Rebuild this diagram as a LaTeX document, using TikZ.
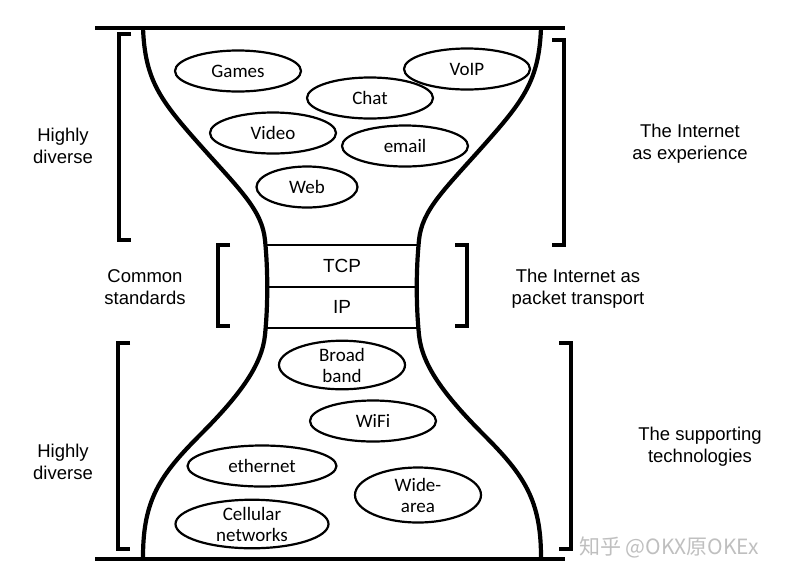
\documentclass[tikz,border=0pt]{standalone}
\usepackage{fontspec}
\setmainfont{Liberation Sans}
\newfontfamily\calibri{Carlito}
\newfontfamily\cjk{Noto Sans CJK SC}
\usetikzlibrary{shapes,positioning}
\tikzstyle{app} = [ellipse, draw, line width=2.2pt, minimum width=126pt,
    minimum height=41pt, inner sep=0pt, align=center,
    font=\calibri\fontsize{19}{21}\selectfont]
\tikzstyle{side} = [align=center, font=\fontsize{18.5}{22}\selectfont]
\tikzstyle{layer} = [minimum width=154pt, minimum height=41pt, inner sep=0pt,
    font=\fontsize{19}{22}\selectfont]
\tikzstyle{brk} = [line width=3.2pt]
\tikzstyle{glass} = [line width=4.2pt]

\begin{document}
\begin{tikzpicture}[x=1pt,y=-1pt,line join=miter]
  \useasboundingbox (0,0) rectangle (805,582);
  % the hourglass
  \draw[glass] (95,28) -- (565,28);
  \draw[glass] (95,559) -- (565,559);
  \draw[glass] (143,28) .. controls (145,80) and (160,100) .. (200,145)
    .. controls (240,190) and (262,210) .. (265,240)
    .. controls (268,270) and (268,305) .. (265,335)
    .. controls (262,365) and (240,395) .. (200,435)
    .. controls (160,475) and (143,500) .. (143,557);
  \draw[glass] (541,28) .. controls (539,80) and (524,100) .. (484,145)
    .. controls (444,190) and (422,210) .. (419,240)
    .. controls (416,270) and (416,305) .. (419,335)
    .. controls (422,365) and (444,395) .. (484,435)
    .. controls (524,475) and (541,500) .. (541,557);

  % waist
  \node[layer] (tcp) at (342,266) {TCP};
  \node[layer, below=0pt of tcp] (ip) {IP};
  \draw[line width=2.2pt] (tcp.north west) -- (tcp.north east)
    (tcp.south west) -- (tcp.south east)
    (ip.south west) -- (ip.south east);

  % applications
  \node[app] (games) at (238,71) {Games};
  \node[app] (voip)  at (467,69) {VoIP};
  \node[app] (chat)  at (370,98) {Chat};
  \node[app] (video) at (273,133) {Video};
  \node[app] (email) at (405,146) {email};
  \node[app, minimum width=101pt] (web) at (307,187) {Web};

  % technologies
  \node[app, minimum height=45pt] (broad) at (342,365) {Broad\\band};
  \node[app] (wifi) at (373,421) {WiFi};
  \node[app, minimum width=149pt] (eth) at (262,466) {ethernet};
  \node[app, minimum height=55pt] (wide) at (418,495) {Wide-\\area};
  \node[app, minimum width=153pt, minimum height=48pt] (cell) at (252,524) {Cellular\\networks};

  % brackets
  \draw[brk] (131,34) -- (119,34) -- (119,240) -- (131,240);
  \draw[brk] (552,40) -- (564,40) -- (564,245) -- (552,245);
  \draw[brk] (230,245) -- (218,245) -- (218,326) -- (230,326);
  \draw[brk] (455,245) -- (467,245) -- (467,326) -- (455,326);
  \draw[brk] (130,343) -- (118,343) -- (118,549) -- (130,549);
  \draw[brk] (559,343) -- (571,343) -- (571,549) -- (559,549);

  % labels
  \node[side] (div1) at (63,146) {Highly\\diverse};
  \node[side] (exp)  at (690,144) {The Internet\\as experience};
  \node[side] (std)  at (145,287) {Common\\standards};
  \node[side] (pkt)  at (578,289) {The Internet as\\packet transport};
  \node[side] (div2) at (63,462) {Highly\\diverse};
  \node[side] (tech) at (700,447) {The supporting\\technologies};

  \node[text=black!25, font=\cjk\fontsize{21}{23}\selectfont] (mark) at (669,547) {知乎 @OKX原OKEx};
\end{tikzpicture}
\end{document}
